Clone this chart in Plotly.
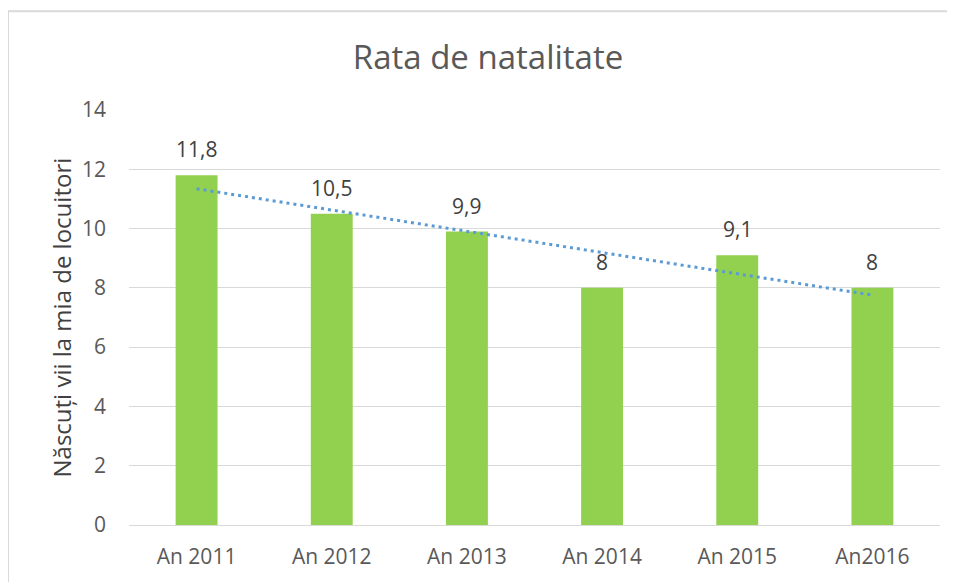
import numpy as np
import plotly.graph_objects as go

categories = ["An 2011", "An 2012", "An 2013", "An 2014", "An 2015", "An2016"]
values = [11.8, 10.5, 9.9, 8, 9.1, 8]
y_ticks = [0, 2, 4, 6, 8, 10, 12, 14]
labels = ["11,8", "10,5", "9,9", "8", "9,1", "8"]

# linear trendline (least squares, as Excel's linear trendline)
xi = np.arange(1, len(values) + 1)
slope, intercept = np.polyfit(xi, values, 1)
trend = slope * xi + intercept

FONT = "Open Sans"
fig = go.Figure()
fig.add_trace(go.Bar(x=categories, y=values, marker=dict(color="#92D050", line=dict(width=0)),
                     showlegend=False, hoverinfo="x+y"))
fig.add_trace(go.Scatter(x=categories, y=trend, mode="lines",
                         line=dict(color="#5B9BD5", width=3, dash="3px,4px"),
                         showlegend=False, hoverinfo="skip"))

for c, v, t in zip(categories, values, labels):
    fig.add_annotation(x=c, y=v, text=t, showarrow=False, yshift=26,
                       font=dict(family=FONT, size=21, color="#404040"))

fig.add_annotation(xref="paper", yref="paper", x=0, y=0.5, xshift=-68, xanchor="center",
                   yanchor="middle",
                   text="Născuți vii la mia de locuitori", textangle=-90, showarrow=False,
                   font=dict(family=FONT, size=24, color="#404040"))

fig.add_shape(type="rect", xref="paper", yref="paper", x0=-0.1492, x1=2, y0=-1, y1=1.238,
              line=dict(color="#D9D9D9", width=2), fillcolor="rgba(0,0,0,0)", layer="below")

# page body has an 8px default margin; compensate
fig.update_layout(
    width=947, height=574,
    margin=dict(l=121, r=15, t=102, b=48),
    paper_bgcolor="white", plot_bgcolor="white",
    bargap=0.69,
    title=dict(text="Rata de natalitate", x=480 / 947, xref="container", xanchor="center",
               y=1 - 49 / 574, yanchor="middle",
               font=dict(family=FONT, size=33, color="#595959")),
    xaxis=dict(showgrid=False, showline=False, ticks="", ticklabelstandoff=17,
               tickfont=dict(family=FONT, size=21, color="#595959"), fixedrange=True),
    yaxis=dict(range=[0, 14], tickvals=y_ticks, ticktext=[str(t) for t in y_ticks],
               showgrid=True, gridcolor="#D9D9D9", gridwidth=1, zeroline=True, zerolinecolor="#D9D9D9",
               zerolinewidth=1, showline=False, ticks="", ticklabelstandoff=22,
               tickfont=dict(family=FONT, size=21, color="#595959")),
    font=dict(family=FONT),
)

fig.write_html("out.html")
